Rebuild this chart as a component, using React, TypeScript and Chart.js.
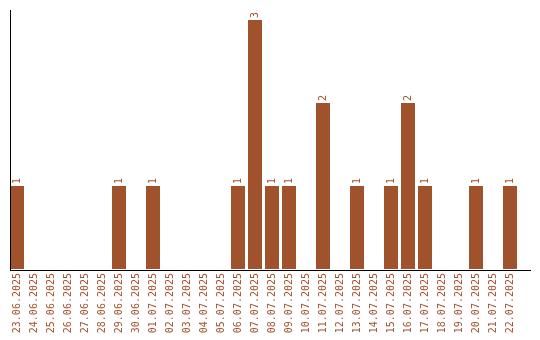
import React, { useEffect, useRef } from "react";
import { Chart, registerables } from "chart.js";

Chart.register(...registerables);

const dateLabels: string[] = [
  "23.06.2025", "24.06.2025", "25.06.2025", "26.06.2025", "27.06.2025",
  "28.06.2025", "29.06.2025", "30.06.2025", "01.07.2025", "02.07.2025",
  "03.07.2025", "04.07.2025", "05.07.2025", "06.07.2025", "07.07.2025",
  "08.07.2025", "09.07.2025", "10.07.2025", "11.07.2025", "12.07.2025",
  "13.07.2025", "14.07.2025", "15.07.2025", "16.07.2025", "17.07.2025",
  "18.07.2025", "19.07.2025", "20.07.2025", "21.07.2025", "22.07.2025",
];

const counts: number[] = [
  1, 0, 0, 0, 0, 0, 1, 0, 1, 0,
  0, 0, 0, 1, 3, 1, 1, 0, 2, 0,
  1, 0, 1, 2, 1, 0, 0, 1, 0, 1,
];

const BAR_COLOR = "#a0522d";
const FONT = "DejaVu Sans Mono";

export default function App() {
  const canvasRef = useRef<HTMLCanvasElement | null>(null);

  useEffect(() => {
    document.body.style.margin = "0";
    const canvas = canvasRef.current;
    if (!canvas) return;

    const axisLines = {
      id: "axisLines",
      afterDraw(chart: any) {
        const ctx = chart.ctx;
        ctx.save();
        ctx.strokeStyle = "#000";
        ctx.lineWidth = 1;
        ctx.beginPath();
        ctx.moveTo(10.5, 10);
        ctx.lineTo(10.5, 270);
        ctx.moveTo(10, 270.5);
        ctx.lineTo(531, 270.5);
        ctx.stroke();
        ctx.restore();
      },
    };

    const valueLabels = {
      id: "valueLabels",
      afterDatasetsDraw(chart: any) {
        const ctx = chart.ctx;
        const meta = chart.getDatasetMeta(0);
        const data = chart.data.datasets[0].data as number[];
        ctx.save();
        ctx.fillStyle = BAR_COLOR;
        ctx.font = `10px "${FONT}"`;
        ctx.textAlign = "left";
        ctx.textBaseline = "middle";
        meta.data.forEach((bar: any, i: number) => {
          const v = data[i];
          if (!v) return;
          ctx.save();
          ctx.translate(bar.x, bar.y - 2);
          ctx.rotate(-Math.PI / 2);
          ctx.fillText(String(v), 0, 0);
          ctx.restore();
        });
        ctx.restore();
      },
    };

    const chart = new Chart(canvas, {
      type: "bar",
      data: {
        labels: dateLabels,
        datasets: [
          {
            data: counts,
            backgroundColor: BAR_COLOR,
            borderWidth: 0,
            categoryPercentage: 1,
            barPercentage: 14 / 17,
          },
        ],
      },
      options: {
        animation: false,
        responsive: false,
        devicePixelRatio: 1,
        layout: { padding: { left: 8.5, right: 21.5, top: 10, bottom: 0 } },
        plugins: {
          legend: { display: false },
          tooltip: { enabled: false },
          title: { display: false },
        },
        scales: {
          x: {
            grid: { display: false, drawTicks: false },
            border: { display: false },
            ticks: {
              autoSkip: false,
              minRotation: 90,
              maxRotation: 90,
              padding: 4,
              color: BAR_COLOR,
              font: { family: FONT, size: 10 },
            },
            afterFit: (scale: any) => {
              scale.height = 71;
            },
          },
          y: {
            display: false,
            min: 0,
            max: 3.12,
          },
        },
      },
      plugins: [axisLines, valueLabels],
    });

    return () => chart.destroy();
  }, []);

  return (
    <div style={{ width: 540, height: 340 }}>
      <canvas ref={canvasRef} width={540} height={340} />
    </div>
  );
}
